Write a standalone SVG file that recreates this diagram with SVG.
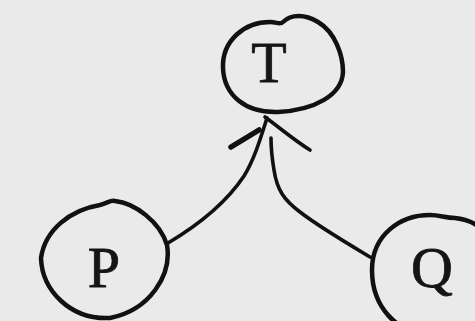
<svg xmlns="http://www.w3.org/2000/svg" width="475" height="321" viewBox="0 0 475 321">
<style>
.node{fill:none;stroke:#111;stroke-width:4.5;stroke-linejoin:round}
.lbl{font-family:"Liberation Serif","Times New Roman",serif;font-size:58px;fill:#151515;stroke:#151515;stroke-width:0.8;text-anchor:middle}
.edge{fill:none;stroke:#111;stroke-width:3.6;stroke-linecap:round;stroke-linejoin:round}
.barb{fill:none;stroke:#111;stroke-width:5.5;stroke-linecap:round}
</style>
<rect x="0" y="0" width="475" height="321" fill="#eaeaea"/>
<g id="connectors">
<path class="edge" d="M168,243 C200,224 228,200 244,176 C254,160 260,140 267,118"/>
<path class="edge" d="M370,257 C345,242 318,226 300,212 C284,200 277,190 274,170 C272,158 271,148 271,138"/>
<path class="barb" d="M231,147 L259,130"/>
<path class="edge" d="M265,117 C280,128 294,140 310,150"/>
</g>
<g id="node-T">
<path class="node" d="M223,68 C222,40 245,22 270,22 C277,22 280,25 283,22 C291,14 305,14 318,22 C335,32 343,55 343,72 C342,95 315,110 278,112 C245,113 224,95 223,68 Z"/>
<text class="lbl" x="269" y="82">T</text>
</g>
<g id="node-P">
<path class="node" d="M41,258 C45,230 70,210 100,205 C108,203 110,200 115,201 C135,203 160,222 167,245 C172,275 150,310 110,318 C70,320 42,290 41,258 Z"/>
<text class="lbl" x="104" y="287">P</text>
</g>
<g id="node-Q">
<path class="node" d="M372,270 C372,235 400,215 430,215 C440,215 445,218 455,218 C490,222 500,250 500,280 C500,320 470,335 435,335 C395,335 372,305 372,270 Z"/>
<text class="lbl" x="432" y="287">Q</text>
</g>
</svg>
